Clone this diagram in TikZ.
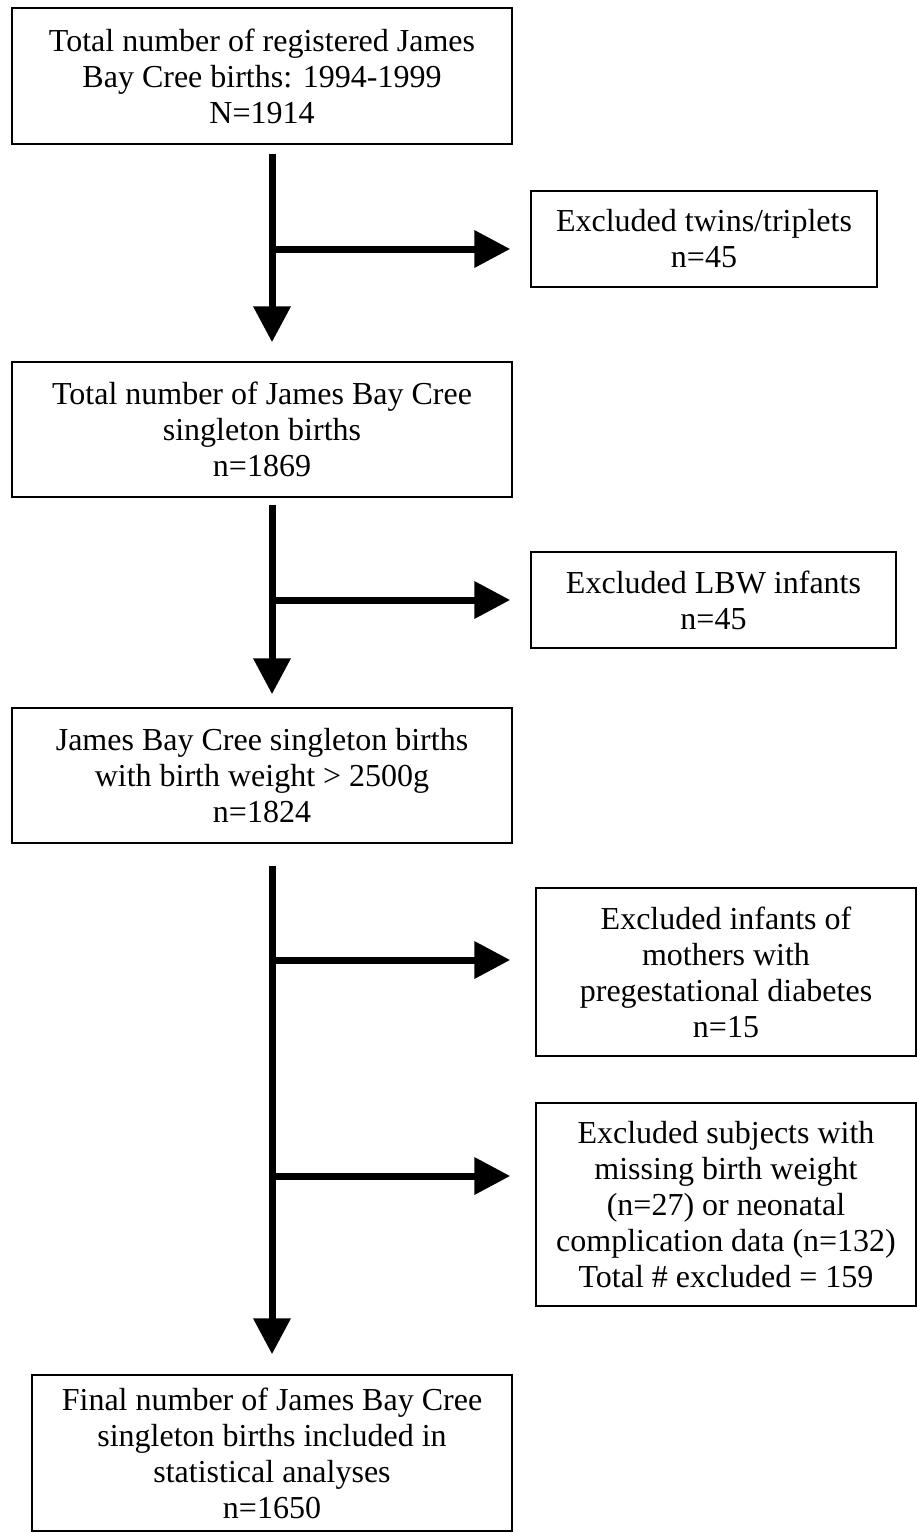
\documentclass[tikz,border=0pt]{standalone}
\usepackage{fontspec}
\setmainfont{Liberation Serif}
\usetikzlibrary{arrows.meta}
\begin{document}
\begin{tikzpicture}[x=1pt,y=-1pt,
    box/.style={draw=black,line width=1.5pt,inner sep=0pt,align=center,
      font=\fontsize{32}{36}\selectfont},
    flow/.style={line width=7pt,-{Triangle[length=36pt,width=36pt]}}]
  \useasboundingbox (0,0) rectangle (917,1533);
  % main column
  \node[box,minimum width=500pt,minimum height=136pt] (total) at (262,76)
    {Total number of registered James\\Bay Cree births: 1994-1999\\N=1914};
  \node[box,minimum width=500pt,minimum height=135pt] (singleton) at (262,429.5)
    {Total number of James Bay Cree\\singleton births\\n=1869};
  \node[box,minimum width=500pt,minimum height=135pt] (weight) at (262,775.5)
    {James Bay Cree singleton births\\with birth weight > 2500g\\n=1824};
  \node[box,minimum width=480pt,minimum height=156pt] (final) at (272,1453)
    {Final number of James Bay Cree\\singleton births included in\\statistical analyses\\n=1650};
  % exclusions
  \node[box,minimum width=346pt,minimum height=96pt] (twins) at (704,239)
    {Excluded twins/triplets\\n=45};
  \node[box,minimum width=365pt,minimum height=96pt] (lbw) at (713.5,600)
    {Excluded LBW infants\\n=45};
  \node[box,minimum width=380pt,minimum height=168pt] (diabetes) at (726,972)
    {Excluded infants of\\mothers with\\pregestational diabetes\\n=15};
  \node[box,minimum width=380pt,minimum height=203pt] (missing) at (726,1204.5)
    {Excluded subjects with\\missing birth weight\\(n=27) or neonatal\\complication data (n=132)\\Total \# excluded = 159};
  % spine and branch points
  \coordinate (spine) at (272,0);
  \coordinate (j1) at (272,249);
  \coordinate (j2) at (272,600);
  \coordinate (j3) at (272,960);
  \coordinate (j4) at (272,1176);
  \draw[flow,shorten <=9pt,shorten >=19pt] (total.south -| spine) -- (singleton.north -| spine);
  \draw[flow,shorten <=7pt,shorten >=13pt] (singleton.south -| spine) -- (weight.north -| spine);
  \draw[flow,shorten <=22pt,shorten >=20pt] (weight.south -| spine) -- (final.north -| spine);
  \draw[flow,shorten >=20pt] (j1) -- (j1 -| twins.west);
  \draw[flow,shorten >=20pt] (j2) -- (j2 -| lbw.west);
  \draw[flow,shorten >=25pt] (j3) -- (j3 -| diabetes.west);
  \draw[flow,shorten >=25pt] (j4) -- (j4 -| missing.west);
\end{tikzpicture}
\end{document}
